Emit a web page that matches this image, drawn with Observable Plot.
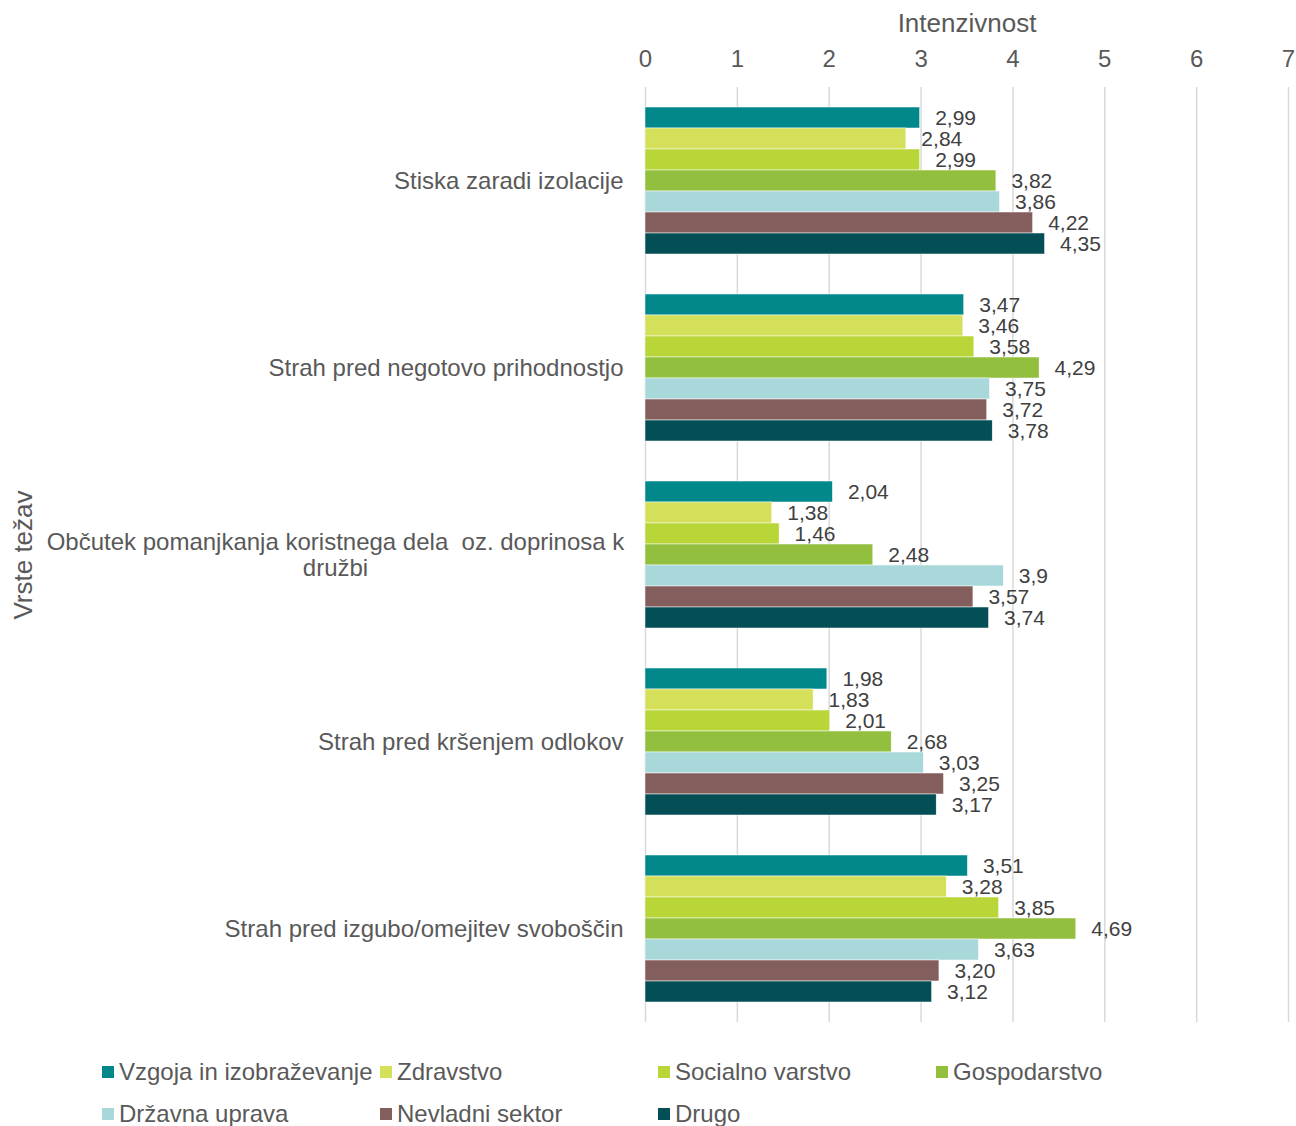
<!DOCTYPE html>
<html>
<head>
<meta charset="utf-8">
<script src="https://cdn.jsdelivr.net/npm/d3@7"></script>
<script src="https://cdn.jsdelivr.net/npm/@observablehq/plot@0.6"></script>
<style>
  body { margin: 0; background: white; font-family: "Liberation Sans", Arial, sans-serif; }
  #wrap { position: relative; width: 1296px; }
  #ytitle { position: absolute; left: 23px; top: 555px; transform: translate(-50%, -50%) rotate(-90deg); font-size: 26px; color: #595959; white-space: nowrap; }
  #legend { display: grid; grid-template-columns: repeat(4, 278px); padding-left: 102px; padding-top: 21px; font-size: 24px; color: #595959; }
  .item { display: flex; align-items: center; height: 42px; white-space: nowrap; }
  .sw { width: 12px; height: 12px; margin-right: 5px; flex: none; }
</style>
</head>
<body>
<div id="wrap">
  <div id="chart"></div>
  <div id="ytitle">Vrste težav</div>
  <div id="legend"></div>
</div>
<script>
const categories = [
  "Stiska zaradi izolacije",
  "Strah pred negotovo prihodnostjo",
  "Občutek pomanjkanja koristnega dela  oz. doprinosa k\ndružbi",
  "Strah pred kršenjem odlokov",
  "Strah pred izgubo/omejitev svoboščin"
];
const series = ["Vzgoja in izobraževanje", "Zdravstvo", "Socialno varstvo", "Gospodarstvo", "Državna uprava", "Nevladni sektor", "Drugo"];
const colors = ["#00888b", "#d4e05a", "#b8d638", "#92bf3e", "#a9d8da", "#845e5c", "#034f55"];
const stiska = ["2,99", "2,84", "2,99", "3,82", "3,86", "4,22", "4,35"];
const negotovost = ["3,47", "3,46", "3,58", "4,29", "3,75", "3,72", "3,78"];
const pomanjkanje = ["2,04", "1,38", "1,46", "2,48", "3,9", "3,57", "3,74"];
const odloki = ["1,98", "1,83", "2,01", "2,68", "3,03", "3,25", "3,17"];
const svoboscine = ["3,51", "3,28", "3,85", "4,69", "3,63", "3,20", "3,12"];
const xTicks = [0, 1, 2, 3, 4, 5, 6, 7];

const valuesByCategory = [stiska, negotovost, pomanjkanje, odloki, svoboscine];
const data = categories.flatMap((c, i) => valuesByCategory[i].map((s, j) => ({
  category: c, series: series[j], value: +s.replace(",", "."), label: s
})));

const longLabel = categories[2];
const chart = Plot.plot({
  width: 1296,
  height: 1030,
  marginTop: 86,
  marginLeft: 645,
  marginRight: 8,
  marginBottom: 8,
  style: { fontFamily: "Liberation Sans, Arial, sans-serif", fontSize: "24px", color: "#595959", background: "white", overflow: "visible" },
  x: { domain: [0, 7], axis: null },
  y: { domain: series, axis: null, paddingInner: 0, paddingOuter: 0.875 },
  fy: { domain: categories, axis: null, padding: 0 },
  color: { domain: series, range: colors },
  marks: [
    Plot.axisX(xTicks, { anchor: "top", tickSize: 0, tickPadding: 21, tickFormat: "d", fontSize: 24, fill: "#595959", label: null }),
    Plot.axisX({ anchor: "top", ticks: [], tickSize: 0, label: "Intenzivnost", labelAnchor: "center", labelOffset: 74, labelArrow: "none", fontSize: 26, fill: "#595959" }),
    Plot.ruleX(xTicks, { stroke: "#d9d9d9", strokeWidth: 1.5 }),
    Plot.barX(data, { x: "value", y: "series", fy: "category", fill: "series", stroke: "white", strokeWidth: 0.5 }),
    Plot.text(data, { x: "value", y: "series", fy: "category", text: "label", textAnchor: "start", dx: 15, fill: "#404040", fontSize: 21 }),
    Plot.text(categories.filter(c => c !== longLabel), { fy: d => d, text: d => d, frameAnchor: "left", textAnchor: "end", dx: -22, fill: "#595959", fontSize: 24 }),
    Plot.text([longLabel], { fy: d => d, text: d => d, frameAnchor: "left", textAnchor: "middle", dx: -310, lineHeight: 1.08, fill: "#595959", fontSize: 24 })
  ]
});
document.getElementById("chart").appendChild(chart);

const legend = document.getElementById("legend");
series.forEach((s, i) => {
  const item = document.createElement("div");
  item.className = "item";
  const sw = document.createElement("span");
  sw.className = "sw";
  sw.style.background = colors[i];
  item.appendChild(sw);
  item.appendChild(document.createTextNode(s));
  legend.appendChild(item);
});
</script>
</body>
</html>
